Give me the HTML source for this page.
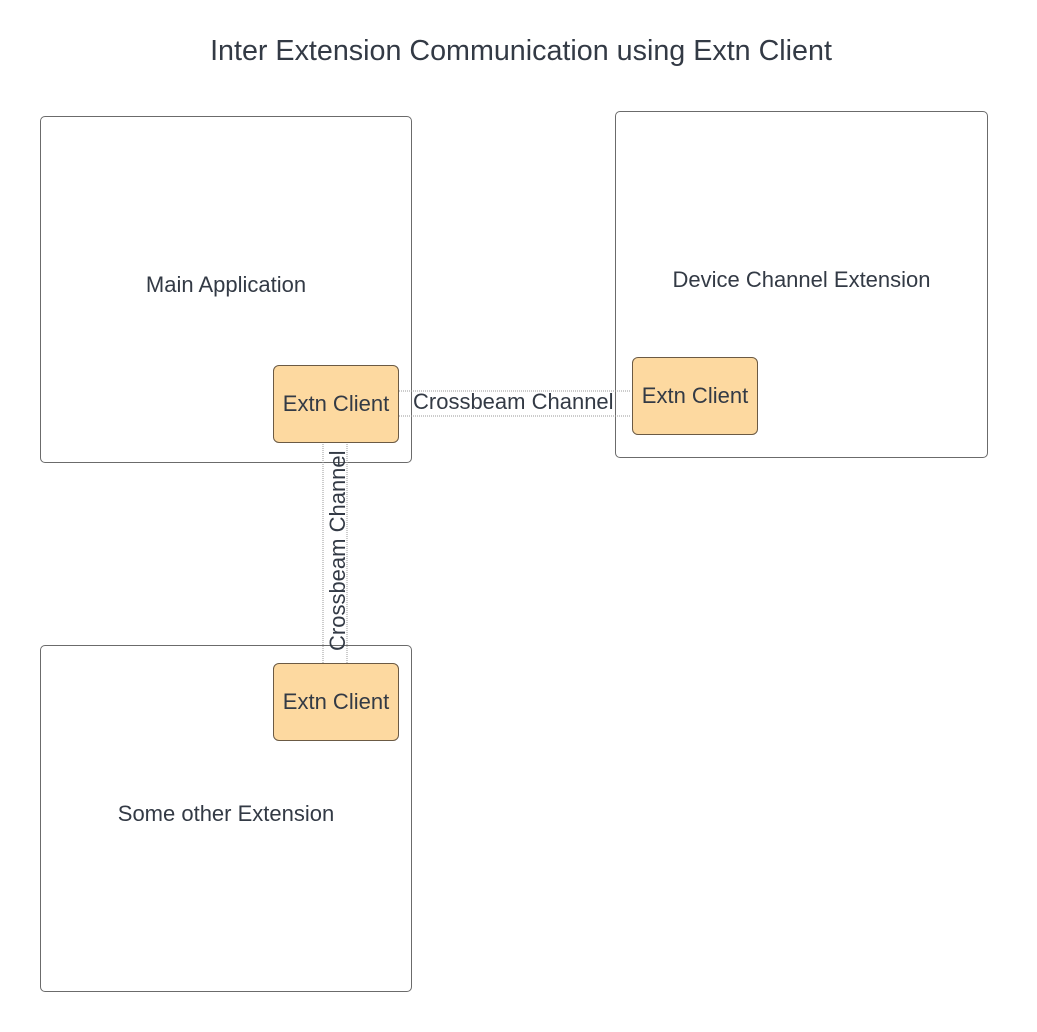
<!DOCTYPE html>
<html><head><style>
body{margin:0;width:1037px;height:1032px;background:#fff;position:relative;font-family:"Liberation Sans",sans-serif;color:#333a45;overflow:hidden}
.box{position:absolute;border:1px solid #6b6b6b;border-radius:5px;background:#fff}
.c{position:absolute;background:#fdd9a0;border:1px solid #6b5a44;border-radius:6px;display:flex;align-items:center;justify-content:center;font-size:22px}
.t{position:absolute;font-size:22px;white-space:nowrap}
</style></head><body>
<div class="t" style="left:0;width:1042px;text-align:center;top:35px;font-size:28.7px">Inter Extension Communication using Extn Client</div>
<div class="box" style="left:40px;top:116px;width:370px;height:345px"></div>
<div class="box" style="left:615px;top:111px;width:371px;height:345px"></div>
<div class="box" style="left:40px;top:645px;width:370px;height:345px"></div>
<div class="t" style="left:40px;width:372px;text-align:center;top:272px">Main Application</div>
<div class="t" style="left:615px;width:373px;text-align:center;top:267px">Device Channel Extension</div>
<div class="t" style="left:40px;width:372px;text-align:center;top:801px">Some other Extension</div>
<svg style="position:absolute;left:0;top:0" width="1037" height="1032">
<g stroke="#999" stroke-width="1" stroke-dasharray="1,1">
<line x1="399" y1="391" x2="630" y2="391"/><line x1="399" y1="416" x2="630" y2="416"/>
<line x1="323" y1="442" x2="323" y2="663"/><line x1="347" y1="442" x2="347" y2="663"/>
</g></svg>
<div class="t" style="left:413px;top:389px">Crossbeam Channel</div>
<div class="t" style="left:238px;top:538px;transform:rotate(-90deg);transform-origin:center;width:200px;text-align:center">Crossbeam Channel</div>
<div class="c" style="left:273px;top:365px;width:124px;height:76px">Extn Client</div>
<div class="c" style="left:632px;top:357px;width:124px;height:76px">Extn Client</div>
<div class="c" style="left:273px;top:663px;width:124px;height:76px">Extn Client</div>
</body></html>
